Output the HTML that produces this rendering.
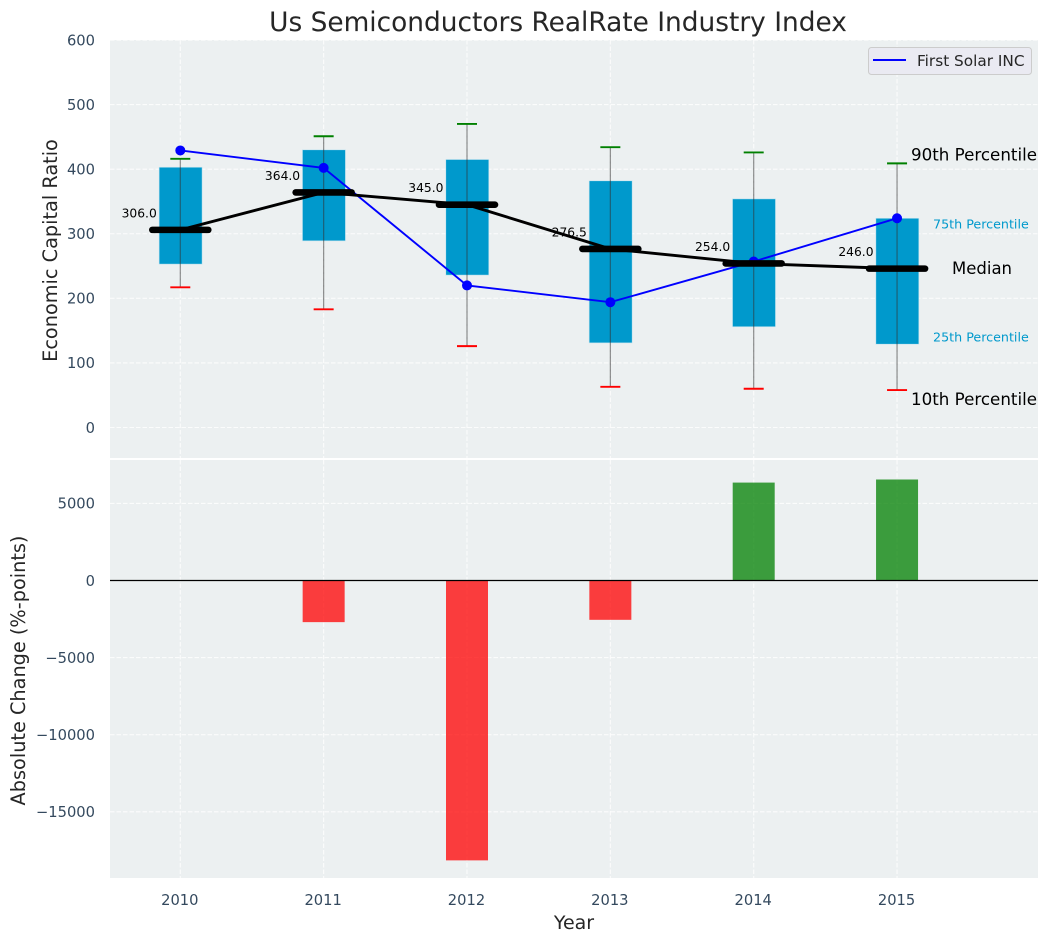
<!DOCTYPE html>
<html lang="en">
<head>
<meta charset="utf-8">
<title>Us Semiconductors RealRate Industry Index</title>
<style>
html,body{margin:0;padding:0;background:#fff;}
svg{display:block;font-family:"DejaVu Sans","Liberation Sans",sans-serif;}
</style>
</head>
<body>
<svg id="chart" xmlns="http://www.w3.org/2000/svg" width="1048" height="942" viewBox="0 0 1048 942"></svg>
<script>
const years = [2010, 2011, 2012, 2013, 2014, 2015];
const p10 = [217, 183, 126, 63, 60, 58];
const p25 = [253, 289, 236, 131, 156, 129];
const medians = [306, 364, 345, 276.5, 254, 246];
const medianLabels = ['306.0', '364.0', '345.0', '276.5', '254.0', '246.0'];
const p75 = [403, 430, 415, 382, 354, 324];
const p90 = [416, 451, 470, 434, 426, 409];
const solar = [429, 402, 220, 194, 257, 324];
const changes = [0, -2700, -18150, -2550, 6350, 6550];
const topTicks = [0, 100, 200, 300, 400, 500, 600];
const bottomTicks = [-15000, -10000, -5000, 0, 5000];

const NS = 'http://www.w3.org/2000/svg';
const svg = document.getElementById('chart');
const L = 110, R = 1038;
const topA = {t: 40, b: 458};
const botA = {t: 460, b: 878};
const X = v => 180.3 + (v - years[0]) * 143.35;
const Y1 = v => 427.5 - v * 0.6458;
const Y2 = v => 580.5 - v * 0.01542;
const fmt = v => (v < 0 ? '\u2212' + (-v) : '' + v);

function mk(tag, attrs, txt) {
  const e = document.createElementNS(NS, tag);
  for (const k in attrs) e.setAttribute(k, attrs[k]);
  if (txt !== undefined) e.textContent = txt;
  svg.appendChild(e);
  return e;
}
let el;

el = mk('rect', {x: L, y: topA.t, width: R - L, height: topA.b - topA.t, fill: '#ecf0f1'});


el = mk('rect', {x: L, y: botA.t, width: R - L, height: botA.b - botA.t, fill: '#ecf0f1'});



const gridStyle = {stroke: '#ffffff', 'stroke-width': 1.1, 'stroke-dasharray': '4.5 2', opacity: 0.8};
topTicks.forEach(t => {
  el = mk('line', {x1: L, x2: R, y1: Y1(t), y2: Y1(t), ...gridStyle});
  
  
  el = mk('text', {x: 95, y: Y1(t) + 5.3, 'text-anchor': 'end', 'font-size': 14.7, fill: '#34495e'}, fmt(t));
  
  
});
bottomTicks.forEach(t => {
  el = mk('line', {x1: L, x2: R, y1: Y2(t), y2: Y2(t), ...gridStyle});
  
  
  el = mk('text', {x: 95, y: Y2(t) + 5.3, 'text-anchor': 'end', 'font-size': 14.7, fill: '#34495e'}, fmt(t));
  
  
});
years.forEach(y => {
  el = mk('line', {x1: X(y), x2: X(y), y1: topA.t, y2: topA.b, ...gridStyle});
  
  
  el = mk('line', {x1: X(y), x2: X(y), y1: botA.t, y2: botA.b, ...gridStyle});
  
  
  el = mk('text', {x: X(y) - 0.5, y: 905, 'text-anchor': 'middle', 'font-size': 14.7, fill: '#34495e'}, '' + y);
  
  
});

years.forEach((y, i) => {
  const x = X(y);
  el = mk('rect', {x: x - 21.2, y: Y1(p75[i]), width: 43, height: Y1(p25[i]) - Y1(p75[i]), fill: '#0099cc', stroke: '#c5e4ef', 'stroke-width': 0.6});
  
  
  el = mk('line', {x1: x, x2: x, y1: Y1(p90[i]), y2: Y1(p10[i]), stroke: '#333333', 'stroke-width': 1.2, opacity: 0.55});
  
  
  el = mk('line', {x1: x - 10, x2: x + 10, y1: Y1(p90[i]), y2: Y1(p90[i]), stroke: '#008000', 'stroke-width': 1.9});
  
  
  el = mk('line', {x1: x - 10, x2: x + 10, y1: Y1(p10[i]), y2: Y1(p10[i]), stroke: '#ff0000', 'stroke-width': 1.9});
  
  
});

el = mk('polyline', {points: years.map((y, i) => X(y) + ',' + Y1(solar[i])).join(' '), fill: 'none', stroke: '#0000ff', 'stroke-width': 1.9});


years.forEach((y, i) => {
  el = mk('circle', {cx: X(y), cy: Y1(solar[i]), r: 5, fill: '#0000ff'});
  
  
});

el = mk('polyline', {points: years.map((y, i) => X(y) + ',' + Y1(medians[i])).join(' '), fill: 'none', stroke: '#000000', 'stroke-width': 2.9});


years.forEach((y, i) => {
  el = mk('line', {x1: X(y) - 28, x2: X(y) + 28, y1: Y1(medians[i]), y2: Y1(medians[i]), stroke: '#000000', 'stroke-width': 6.6, 'stroke-linecap': 'round'});
  
  
  el = mk('text', {x: X(y) - 23.5, y: Y1(medians[i]) - 12.5, 'text-anchor': 'end', 'font-size': 12.3, fill: '#000000'}, medianLabels[i]);
  
  
});

const last = years.length - 1;
el = mk('text', {x: 911, y: Y1(p90[last]) - 3, 'font-size': 16.7, fill: '#000000'}, '90th Percentile');


el = mk('text', {x: 933, y: Y1(p75[last]) + 10, 'font-size': 12.7, fill: '#0099cc'}, '75th Percentile');


el = mk('text', {x: 952, y: Y1(medians[last]) + 5.5, 'font-size': 16.5, fill: '#000000'}, 'Median');


el = mk('text', {x: 933, y: Y1(p25[last]) - 2.5, 'font-size': 12.7, fill: '#0099cc'}, '25th Percentile');


el = mk('text', {x: 911, y: Y1(p10[last]) + 15, 'font-size': 16.7, fill: '#000000'}, '10th Percentile');



years.forEach((y, i) => {
  if (!changes[i]) return;
  const top = Math.min(Y2(0), Y2(changes[i]));
  const h = Math.abs(Y2(changes[i]) - Y2(0));
  el = mk('rect', {x: X(y) - 21, y: top, width: 42, height: h, fill: changes[i] < 0 ? '#ff0000' : '#008000', 'fill-opacity': 0.75});
  
  
});
el = mk('line', {x1: L, x2: R, y1: Y2(0), y2: Y2(0), stroke: '#000000', 'stroke-width': 1.2});



el = mk('rect', {x: 868.5, y: 47.5, width: 163, height: 27, rx: 3, fill: '#eaeaf2', stroke: '#cccccc', 'stroke-width': 1});


el = mk('line', {x1: 873, x2: 906, y1: 60, y2: 60, stroke: '#0000ff', 'stroke-width': 1.9});


el = mk('text', {x: 917, y: 66, 'font-size': 15.3, fill: '#262626'}, 'First Solar INC');



el = mk('text', {x: 558, y: 31, 'text-anchor': 'middle', 'font-size': 26.4, fill: '#262626'}, 'Us Semiconductors RealRate Industry Index');


el = mk('text', {x: 574, y: 929, 'text-anchor': 'middle', 'font-size': 19, fill: '#262626'}, 'Year');


el = mk('text', {transform: 'translate(57 250.5) rotate(-90)', 'text-anchor': 'middle', 'font-size': 19.3, fill: '#262626'}, 'Economic Capital Ratio');


el = mk('text', {transform: 'translate(25 670.5) rotate(-90)', 'text-anchor': 'middle', 'font-size': 19.3, fill: '#262626'}, 'Absolute Change (%-points)');


</script>
</body>
</html>
